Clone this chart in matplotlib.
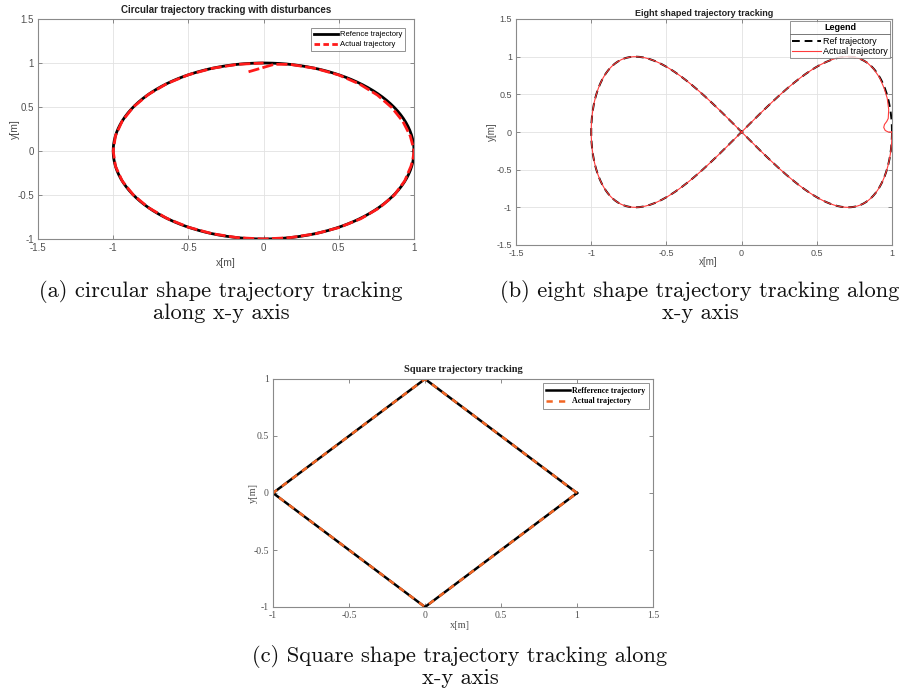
import numpy as np
import matplotlib
matplotlib.use("Agg")
import matplotlib.pyplot as plt
from matplotlib.lines import Line2D

# ---------------- data ----------------
# (a) circular trajectory
circle_radius = 1.0
circ_xticks = [-1.5, -1, -0.5, 0, 0.5, 1]
circ_xticklabels = ['-1.5', '-1', '-0.5', '0', '0.5', '1']
circ_yticks = [-1, -0.5, 0, 0.5, 1, 1.5]
circ_yticklabels = ['-1', '-0.5', '0', '0.5', '1', '1.5']
# actual path: initial approach segment, then clockwise lap (angle in deg, radius)
circ_start_x = [-0.10, -0.05, 0.00, 0.04, 0.07]
circ_start_y = [0.90, 0.925, 0.95, 0.97, 0.985]
circ_angle_deg = [80, 70, 60, 50, 40, 30, 20, 10, 5, 0, -5, -10, -20, -30, -40, -50,
                  -60, -70, -80, -90, -100, -110, -120, -130, -140, -150, -160, -170,
                  -180, -190, -200, -210, -220, -230, -240, -250, -260, -270]
circ_actual_r = [1.0, 1.0, 0.998, 0.993, 0.988, 0.985, 0.985, 0.99, 0.992, 1.0, 0.997,
                 0.995, 0.998, 1.003, 1.005, 1.005, 1.004, 1.002, 1.0, 1.0, 1.0, 1.0, 1.0,
                 1.0, 1.0, 1.0, 1.0, 1.0, 1.0, 1.0, 1.0, 1.0, 1.0, 1.0, 1.0, 1.0, 1.0, 1.0]

# (b) figure-eight trajectory: x = ax*cos(t), y = ay*sin(2t)
eight_amp_x = 1.0
eight_amp_y = 1.0
eight_xticks = [-1.5, -1, -0.5, 0, 0.5, 1]
eight_xticklabels = ['-1.5', '-1', '-0.5', '0', '0.5', '1']
eight_yticks = [-1.5, -1, -0.5, 0, 0.5, 1, 1.5]
eight_yticklabels = ['-1.5', '-1', '-0.5', '0', '0.5', '1', '1.5']
eight_start_x = [1.0, 0.975, 0.955, 0.945, 0.95, 0.965, 0.975, 0.978, 0.968, 0.948, 0.918, 0.877, 0.83]
eight_start_y = [0.0, 0.0, 0.02, 0.06, 0.10, 0.14, 0.18, 0.30, 0.45, 0.58, 0.72, 0.84, 0.93]
eight_join_deg = 34

# (c) square trajectory
square_x = [1, 0, -1, 0, 1]
square_y = [0, 1, 0, -1, 0]
sq_xticks = [-1, -0.5, 0, 0.5, 1, 1.5]
sq_xticklabels = ['-1', '-0.5', '0', '0.5', '1', '1.5']
sq_yticks = [-1, -0.5, 0, 0.5, 1]
sq_yticklabels = ['-1', '-0.5', '0', '0.5', '1']

caption_a = ["(a) circular shape trajectory tracking", "along x-y axis"]
caption_b = ["(b) eight shape trajectory tracking along", "x-y axis"]
caption_c = ["(c) Square shape trajectory tracking along", "x-y axis"]

# ---------------- figure ----------------
W, H = 901, 693
fig = plt.figure(figsize=(W / 100, H / 100), dpi=100)
SANS = ['Liberation Sans', 'DejaVu Sans']
SERIF = ['Liberation Serif', 'DejaVu Serif']


def px_axes(l, t, r, b):
    return fig.add_axes([l / W, 1 - b / H, (r - l) / W, (b - t) / H])


def ftext(x, y, s, **kw):
    return fig.text(x / W, 1 - y / H, s, **kw)


def style_axes(ax, family, size, grid):
    for sp in ax.spines.values():
        sp.set_color('#8a8a8a')
        sp.set_linewidth(0.8)
    ax.tick_params(direction='in', length=3, width=0.6, color='#777777',
                   labelsize=size, labelcolor='#505050', top=True, right=True, pad=3)
    for lab in ax.get_xticklabels() + ax.get_yticklabels():
        lab.set_family(family)
    if grid:
        ax.grid(True, color='#e2e2e2', linewidth=0.6)
        ax.set_axisbelow(True)


# ---- (a) circle ----
ax1 = px_axes(38, 19, 414, 239)
th = np.linspace(0, 2 * np.pi, 400)
ax1.plot(circle_radius * np.cos(th), circle_radius * np.sin(th), color='black', lw=2.0,
         label='Refence trajectory')
ang = np.deg2rad(circ_angle_deg)
act_x = list(circ_start_x) + list(np.array(circ_actual_r) * np.cos(ang))
act_y = list(circ_start_y) + list(np.array(circ_actual_r) * np.sin(ang))
ax1.plot(act_x, act_y, color='#ff1a1a', lw=2.0, ls=(0, (4, 1.2)), label='Actual trajectory')
ax1.set_xlim(-1.5, 1)
ax1.set_ylim(-1, 1.5)
ax1.set_xticks(circ_xticks)
ax1.set_xticklabels(circ_xticklabels)
ax1.set_yticks(circ_yticks)
ax1.set_yticklabels(circ_yticklabels)
style_axes(ax1, SANS, 7, True)
leg1 = ax1.legend(loc='upper right', frameon=True, fancybox=False,
                  edgecolor='#777777', borderaxespad=1.15, handlelength=3.2,
                  handletextpad=0.2, borderpad=0.4, labelspacing=0.35,
                  prop={'family': SANS, 'size': 5.5})
leg1.get_lines()[1].set_linestyle((0, (2, 1.2)))
leg1.get_frame().set_linewidth(0.7)
ftext(226, 10, 'Circular trajectory tracking with disturbances', ha='center', va='center',
      fontsize=7, fontweight='bold', family=SANS, color='#222222')
ftext(226, 263, 'x[m]', ha='center', va='center', fontsize=7.5, family=SANS, color='#505050')
ftext(15, 129, 'y[m]', ha='center', va='center', rotation=90, fontsize=7.5, family=SANS,
      color='#505050')

# ---- (b) figure eight ----
ax2 = px_axes(516, 19, 892, 245)
t = np.linspace(0, 2 * np.pi, 600)
ax2.plot(eight_amp_x * np.cos(t), eight_amp_y * np.sin(2 * t), color='black', lw=1.4,
         ls=(0, (4, 2.5)), label='Ref trajectory')
tj = np.linspace(np.deg2rad(eight_join_deg), 2 * np.pi, 560)
e_x = list(eight_start_x) + list(eight_amp_x * np.cos(tj))
e_y = list(eight_start_y) + list(eight_amp_y * np.sin(2 * tj))
ax2.plot(e_x, e_y, color='#ff3b3b', lw=0.8, label='Actual trajectory')
ax2.set_xlim(-1.5, 1)
ax2.set_ylim(-1.5, 1.5)
ax2.set_xticks(eight_xticks)
ax2.set_xticklabels(eight_xticklabels)
ax2.set_yticks(eight_yticks)
ax2.set_yticklabels(eight_yticklabels)
style_axes(ax2, SANS, 6.5, True)
leg2 = ax2.legend(loc='upper right', title='Legend', frameon=True,
                  fancybox=False, edgecolor='#777777', borderaxespad=0.2,
                  handlelength=3.2, handletextpad=0.2, borderpad=0.25,
                  labelspacing=0.1, prop={'family': SANS, 'size': 6.5},
                  title_fontproperties={'family': SANS, 'size': 6.5, 'weight': 'bold'})
leg2._legend_box.sep = 3.5
leg2.get_frame().set_linewidth(0.7)
ftext(704, 14, 'Eight shaped trajectory tracking', ha='center', va='center',
      fontsize=6.5, fontweight='bold', family=SANS, color='#222222')
ftext(708, 262, 'x[m]', ha='center', va='center', fontsize=7, family=SANS, color='#505050')
ftext(492, 132, 'y[m]', ha='center', va='center', rotation=90, fontsize=7, family=SANS,
      color='#505050')

# ---- (c) square ----
ax3 = px_axes(273, 379, 653, 607)
ax3.plot(square_x, square_y, color='black', lw=1.8, label='Refference trajectory')
ax3.plot(square_x, square_y, color='#f26522', lw=1.8, ls=(0, (2.5, 2.5)),
         label='Actual trajectory')
ax3.set_xlim(-1, 1.5)
ax3.set_ylim(-1, 1)
ax3.set_xticks(sq_xticks)
ax3.set_xticklabels(sq_xticklabels)
ax3.set_yticks(sq_yticks)
ax3.set_yticklabels(sq_yticklabels)
style_axes(ax3, SERIF, 7, False)
leg3 = ax3.legend(loc='upper right', frameon=True, fancybox=False, edgecolor='#777777',
                  borderaxespad=0.55, handlelength=3.0, handletextpad=0.25,
                  borderpad=0.4, labelspacing=0.35,
                  prop={'family': SERIF, 'size': 5.8, 'weight': 'bold'})
leg3.get_frame().set_linewidth(0.7)
ftext(463, 370, 'Square trajectory tracking', ha='center', va='center', fontsize=7.5,
      fontweight='bold', family=SERIF, color='#222222')
ftext(460, 625, 'x[m]', ha='center', va='center', fontsize=7.5, family=SERIF, color='#505050')
ftext(253, 493, 'y[m]', ha='center', va='center', rotation=90, fontsize=7.5, family=SERIF,
      color='#505050')

# ---- captions (one text per line, baseline aligned) ----
cap_kw = dict(ha='center', va='baseline', fontsize=16.2, family=['cmr10', 'DejaVu Serif'],
              color='#111111')
for (cx, y1, y2), lines in [((221, 297, 319), caption_a),
                            ((700, 297, 319), caption_b),
                            ((460, 662, 684), caption_c)]:
    ftext(cx, y1, lines[0], **cap_kw)
    ftext(cx, y2, lines[1], **cap_kw)

# separator under the legend title of panel (b)
fig.canvas.draw()
r = fig.canvas.get_renderer()
fb = leg2.get_frame().get_window_extent(r)
tb = leg2.get_title().get_window_extent(r)
ysep = tb.y0 - 1.5
inv = fig.transFigure.inverted()
(x0f, yf), (x1f, _) = inv.transform([(fb.x0, ysep), (fb.x1, ysep)])
fig.add_artist(Line2D([x0f, x1f], [yf, yf], transform=fig.transFigure,
                      color='#777777', lw=0.7))

fig.savefig('out.png', dpi=100)
